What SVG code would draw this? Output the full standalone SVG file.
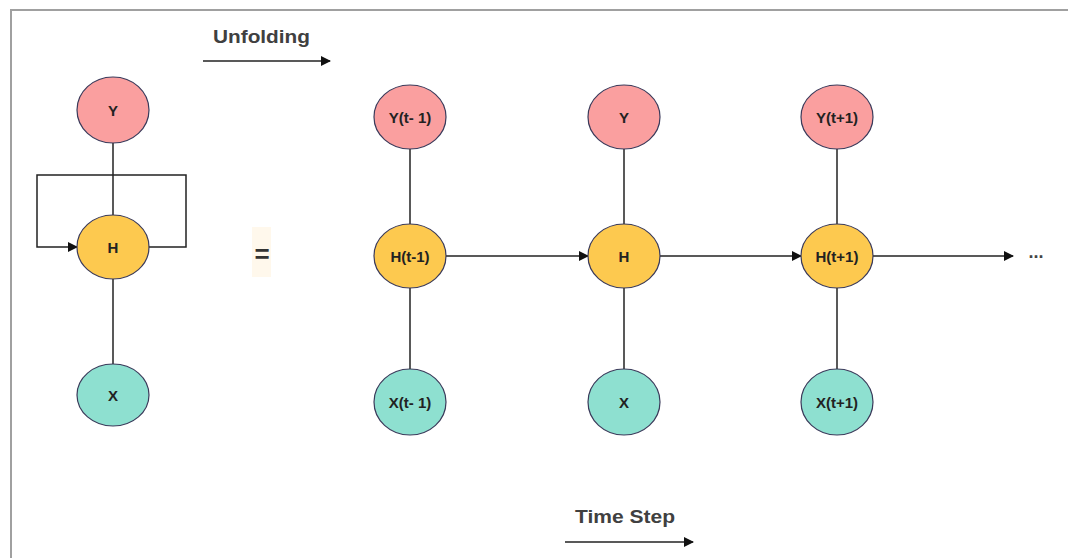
<svg xmlns="http://www.w3.org/2000/svg" width="1068" height="558" viewBox="0 0 1068 558">
<defs>
<marker id="ah" viewBox="0 0 10 10" refX="9" refY="5" markerWidth="10" markerHeight="10" markerUnits="userSpaceOnUse" orient="auto">
<path d="M0,0 L10,5 L0,10 z" fill="#111"/>
</marker>
<style>
.ln{stroke:#222;stroke-width:1.5;fill:none}
.nd{stroke:#3a3a5a;stroke-width:1.2}
.y{fill:#fa9f9f}
.h{fill:#fdc94f}
.x{fill:#8ee0d0}
.lb{font-family:"Liberation Sans",Arial,sans-serif;font-weight:bold;font-size:15px;fill:#222;text-anchor:middle;dominant-baseline:central}
.tt{font-family:"Liberation Sans",Arial,sans-serif;font-weight:bold;font-size:19px;fill:#404040}
</style>
</defs>
<rect x="0" y="0" width="1068" height="558" fill="#fff"/>
<path d="M11,558 V10 H1068" fill="none" stroke="#a0a0a0" stroke-width="2"/>
<text class="tt" x="213" y="43" textLength="97" lengthAdjust="spacingAndGlyphs">Unfolding</text>
<text class="tt" x="575" y="523" textLength="100" lengthAdjust="spacingAndGlyphs">Time Step</text>
<g id="connectors">
<line class="ln" x1="203" y1="61" x2="330" y2="61" marker-end="url(#ah)"/>
<line class="ln" x1="565" y1="542" x2="693" y2="542" marker-end="url(#ah)"/>
<line class="ln" x1="113" y1="142" x2="113" y2="215"/>
<line class="ln" x1="113" y1="279" x2="113" y2="364"/>
<path class="ln" d="M148,247 H186 V175 H37 V247 H77" marker-end="url(#ah)"/>
<line class="ln" x1="410" y1="149" x2="410" y2="224"/>
<line class="ln" x1="410" y1="288" x2="410" y2="369"/>
<line class="ln" x1="624" y1="149" x2="624" y2="224"/>
<line class="ln" x1="624" y1="288" x2="624" y2="369"/>
<line class="ln" x1="837" y1="149" x2="837" y2="224"/>
<line class="ln" x1="837" y1="288" x2="837" y2="369"/>
<line class="ln" x1="446" y1="256" x2="588" y2="256" marker-end="url(#ah)"/>
<line class="ln" x1="660" y1="256" x2="801" y2="256" marker-end="url(#ah)"/>
<line class="ln" x1="873" y1="256" x2="1013" y2="256" marker-end="url(#ah)"/>
</g>
<g id="equals">
<rect x="252" y="227" width="19" height="50" fill="#fff8ec"/>
<text class="lb" x="262" y="254" style="font-size:26px;fill:#333">=</text>
</g>
<g id="dots"><text class="lb" x="1036" y="252" style="font-size:18px;fill:#444">...</text></g>
<g id="nY"><ellipse class="nd y" cx="113" cy="110" rx="36" ry="33"/><text class="lb" x="113" y="110">Y</text></g>
<g id="nH"><ellipse class="nd h" cx="113" cy="247" rx="36" ry="32"/><text class="lb" x="113" y="247">H</text></g>
<g id="nX"><ellipse class="nd x" cx="113" cy="395" rx="36" ry="31"/><text class="lb" x="113" y="395">X</text></g>
<g id="nY1"><ellipse class="nd y" cx="410" cy="117" rx="36" ry="32"/><text class="lb" x="410" y="117">Y(t- 1)</text></g>
<g id="nY2"><ellipse class="nd y" cx="624" cy="117" rx="36" ry="32"/><text class="lb" x="624" y="117">Y</text></g>
<g id="nY3"><ellipse class="nd y" cx="837" cy="117" rx="36" ry="32"/><text class="lb" x="837" y="117">Y(t+1)</text></g>
<g id="nH1"><ellipse class="nd h" cx="410" cy="256" rx="36" ry="32"/><text class="lb" x="410" y="256">H(t-1)</text></g>
<g id="nH2"><ellipse class="nd h" cx="624" cy="256" rx="36" ry="32"/><text class="lb" x="624" y="256">H</text></g>
<g id="nH3"><ellipse class="nd h" cx="837" cy="256" rx="36" ry="32"/><text class="lb" x="837" y="256">H(t+1)</text></g>
<g id="nX1"><ellipse class="nd x" cx="410" cy="402" rx="36" ry="33"/><text class="lb" x="410" y="402">X(t- 1)</text></g>
<g id="nX2"><ellipse class="nd x" cx="624" cy="402" rx="36" ry="33"/><text class="lb" x="624" y="402">X</text></g>
<g id="nX3"><ellipse class="nd x" cx="837" cy="402" rx="36" ry="33"/><text class="lb" x="837" y="402">X(t+1)</text></g>
</svg>
